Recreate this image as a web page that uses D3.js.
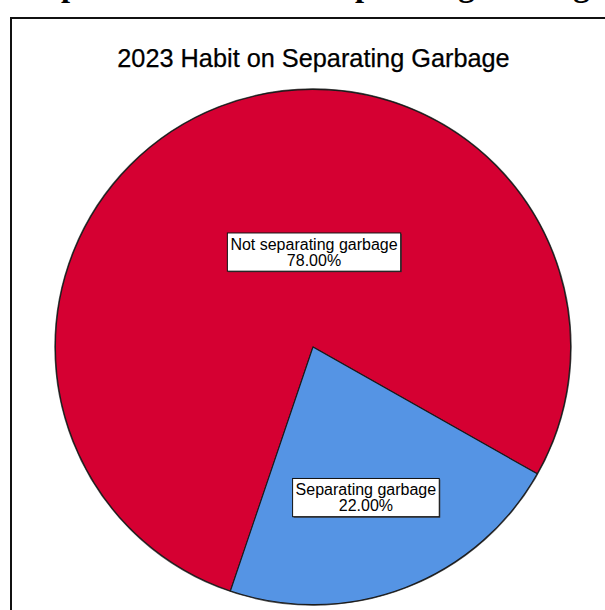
<!DOCTYPE html>
<html>
<head>
<meta charset="utf-8">
<script src="https://cdn.jsdelivr.net/npm/d3@7/dist/d3.min.js"></script>
<style>
  html, body { margin: 0; padding: 0; background: #fff; overflow: hidden; }
  svg { display: block; }
</style>
</head>
<body>
<svg id="chart" width="605" height="610"></svg>
<script>
// Survey result: share of respondents by garbage-separating habit (2023)
const categories = ["Not separating garbage", "Separating garbage"];
const percentages = [78.0, 22.0];
const sliceColors = ["#d50032", "#5594e4"];

const headingText = "Graph of the Habit on Separating Garbage";
const chartTitle = "2023 Habit on Separating Garbage";

// Label placement: angle (degrees, clockwise from 12 o'clock) and radius fraction
const labelAngles = [0.6, 160.7];
const labelRadii = [0.367, 0.621];

const W = 605, H = 610;
const svg = d3.select("#chart");

// Document heading above the chart frame (only its lower edge shows)
svg.append("text")
  .attr("x", 4.8)
  .attr("y", -4)
  .attr("font-family", "'Liberation Serif', 'Times New Roman', serif")
  .attr("font-weight", "bold")
  .attr("font-size", 32.6)
  .attr("fill", "#000")
  .text(headingText);

// Chart frame
svg.append("rect")
  .attr("x", 11)
  .attr("y", 18)
  .attr("width", 700)
  .attr("height", 700)
  .attr("fill", "#fff")
  .attr("stroke", "#111")
  .attr("stroke-width", 2);

// Title
svg.append("text")
  .attr("x", 313.5)
  .attr("y", 67)
  .attr("text-anchor", "middle")
  .attr("font-family", "'Liberation Sans', Arial, sans-serif")
  .attr("font-size", 25.3)
  .attr("fill", "#000")
  .attr("stroke", "#000")
  .attr("stroke-width", 0.25)
  .text(chartTitle);

const cx = 313, cy = 347, radius = 257.6;
const deg = Math.PI / 180;
const startDeg = 198.7;

const pie = d3.pie()
  .sort(null)
  .value(d => d)
  .startAngle(startDeg * deg)
  .endAngle((startDeg + 360) * deg);

const arcs = pie(percentages);
const arc = d3.arc().innerRadius(0).outerRadius(radius);

const defs = svg.append("defs");
const blur = defs.append("filter").attr("id", "soft")
  .attr("x", "-5%").attr("y", "-5%").attr("width", "110%").attr("height", "110%");
blur.append("feGaussianBlur").attr("stdDeviation", 0.6);

const g = svg.append("g").attr("transform", `translate(${cx},${cy})`);

// Soft edge around the pie
g.append("circle")
  .attr("r", radius + 0.3)
  .attr("fill", "none")
  .attr("stroke", "#555")
  .attr("stroke-width", 1.6)
  .attr("filter", "url(#soft)");

g.selectAll("path.slice")
  .data(arcs)
  .enter()
  .append("path")
  .attr("class", "slice")
  .attr("d", arc)
  .attr("fill", (d, i) => sliceColors[i])
  .attr("stroke", "#1a1a1a")
  .attr("stroke-width", 1.1)
  .attr("stroke-linejoin", "round");

// Value labels in boxes
const fmt = d3.format(".2f");
const labelFont = 16;
const lineGap = 15.7;

arcs.forEach((a, i) => {
  const ang = labelAngles[i] * deg;
  const r = labelRadii[i] * radius;
  const lx = Math.sin(ang) * r;
  const ly = -Math.cos(ang) * r;

  const lg = g.append("g").attr("transform", `translate(${lx},${ly})`);
  const t = lg.append("text")
    .attr("text-anchor", "middle")
    .attr("font-family", "'Liberation Sans', Arial, sans-serif")
    .attr("font-size", labelFont)
    .attr("fill", "#000");
  t.append("tspan").attr("x", 0).attr("y", -2.5).text(categories[i]);
  t.append("tspan").attr("x", 0).attr("y", -2.5 + lineGap).text(fmt(a.data) + "%");

  const bb = t.node().getBBox();
  const padX = 3, padTop = 3, padBot = 2.5;
  const bx = bb.x - padX, by = bb.y - padTop;
  const bw = bb.width + padX * 2, bh = bb.height + padTop + padBot;

  lg.insert("rect", "text")
    .attr("x", bx + 1).attr("y", by + 1)
    .attr("width", bw).attr("height", bh)
    .attr("fill", "#333");
  lg.insert("rect", "text")
    .attr("x", bx).attr("y", by)
    .attr("width", bw).attr("height", bh)
    .attr("fill", "#fff")
    .attr("stroke", "#111")
    .attr("stroke-width", 1);
});
</script>
</body>
</html>
